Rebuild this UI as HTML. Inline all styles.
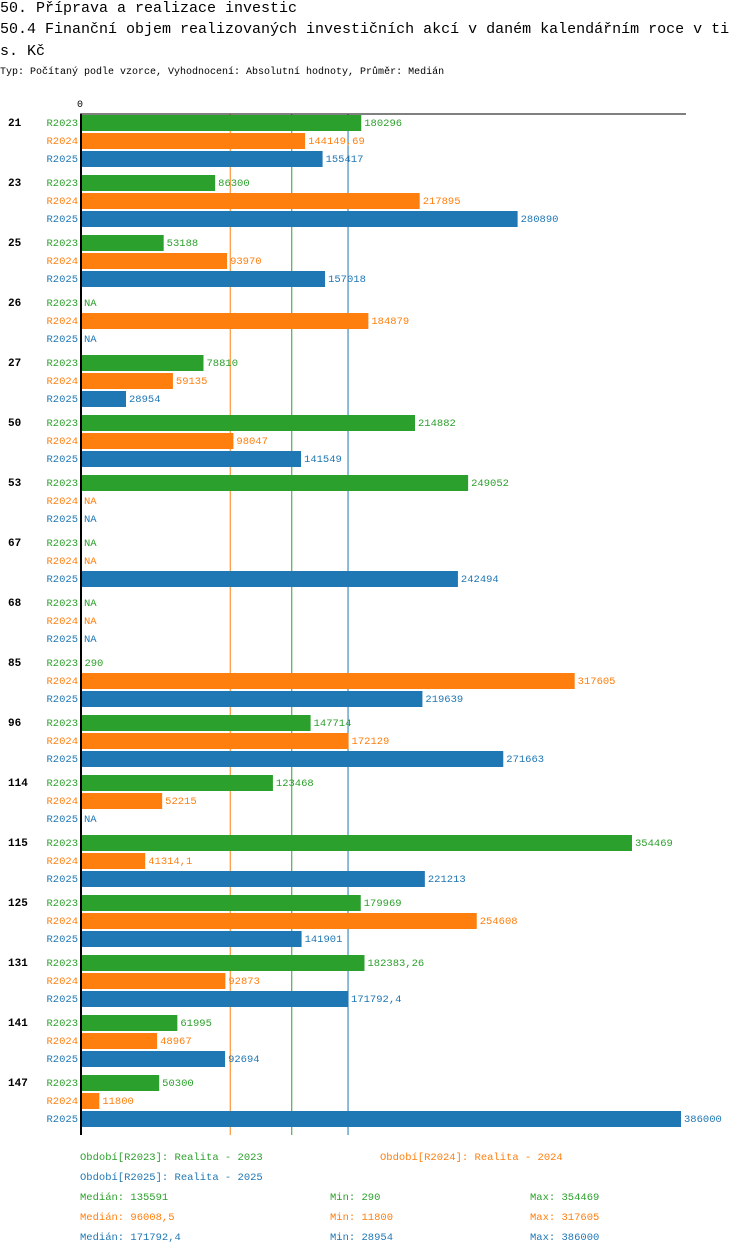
<!DOCTYPE html>
<html><head><meta charset="utf-8"><style>
body{margin:0;background:#fff;width:750px;height:1254px;overflow:hidden;font-family:"Liberation Mono","DejaVu Sans Mono",monospace;}
.t{position:absolute;left:0;white-space:nowrap;font-size:15px;color:#000;}
</style></head><body>
<div class="t" style="top:0px">50. Příprava a realizace investic</div>
<div class="t" style="top:21px;width:750px;overflow:hidden">50.4 Finanční objem realizovaných investičních akcí v daném kalendářním roce v ti</div>
<div class="t" style="top:43px">s. Kč</div>
<div class="t" style="top:67px;font-size:10px">Typ: Počítaný podle vzorce, Vyhodnocení: Absolutní hodnoty, Průměr: Medián</div>
<svg id="c" width="750" height="1254" style="position:absolute;left:0;top:0"></svg>
<script>
const categories=["21","23","25","26","27","50","53","67","68","85","96","114","115","125","131","141","147"];
const seriesNames=["R2023","R2024","R2025"];
const r2023=[180296,86300,53188,null,78810,214882,249052,null,null,290,147714,123468,354469,179969,182383.26,61995,50300];
const r2024=[144149.69,217895,93970,184879,59135,98047,null,null,null,317605,172129,52215,41314.1,254608,92873,48967,11800];
const r2025=[155417,280890,157018,null,28954,141549,null,242494,null,219639,271663,null,221213,141901,171792.4,92694,386000];
const medians=[135591,96008.5,171792.4];
const mins=[290,11800,28954];
const maxs=[354469,317605,386000];
const medianLabels=["135591","96008,5","171792,4"];
const legendTitles=["Období[R2023]: Realita - 2023","Období[R2024]: Realita - 2024","Období[R2025]: Realita - 2025"];
const colors=["#2ca02c","#ff7f0e","#1f77b4"];
const series=[r2023,r2024,r2025];
const X0=81,XMAX=386000,W=600;
const x=v=>X0+v/XMAX*W;
const svg=document.getElementById('c');
const NS="http://www.w3.org/2000/svg";
function mk(tag,a){const e=document.createElementNS(NS,tag);for(const k in a)e.setAttribute(k,a[k]);svg.appendChild(e);return e;}
function fmt(v){return String(v).replace('.',',');}
const top0=114,gh=60,bh=16;
const bottom=1135;
medians.forEach((m,i)=>{const l=mk('line',{x1:x(m),x2:x(m),y1:top0,y2:bottom,stroke:colors[i],'stroke-width':1});

});
categories.forEach((c,gi)=>{
  const gy=top0+gi*gh;
  const t=mk('text',{x:8,y:gy+12,'font-size':11,'font-weight':'bold','font-family':'Liberation Mono,monospace'});t.textContent=c;
  
  
  series.forEach((s,si)=>{
    const y=gy+si*18;
    const lb=mk('text',{x:78,y:y+12,'font-size':10.5,'text-anchor':'end',fill:colors[si],'font-family':'Liberation Mono,monospace'});lb.textContent=seriesNames[si];
    
    
    const v=s[gi];
    if(v!==null){
      const r=mk('rect',{x:X0,y:y+1,width:Math.max(0,x(v)-X0),height:bh,fill:colors[si]});
      
      
    }
    const vt=mk('text',{x:(v===null?X0:x(v))+3,y:y+12,'font-size':10.5,fill:colors[si],'font-family':'Liberation Mono,monospace'});
    vt.textContent=v===null?'NA':fmt(v);
    
    
  });
});
const ax=mk('line',{x1:80,x2:686,y1:top0,y2:top0,stroke:'#000','stroke-width':1});


const ay=mk('line',{x1:81,x2:81,y1:top0,y2:bottom,stroke:'#000','stroke-width':2});


const z=mk('text',{x:77,y:107,'font-size':10,'font-family':'Liberation Mono,monospace'});z.textContent='0';


const lpos=[[80,1160],[380,1160],[80,1180]];
legendTitles.forEach((t,i)=>{const e=mk('text',{x:lpos[i][0],y:lpos[i][1],'font-size':10.5,fill:colors[i],'font-family':'Liberation Mono,monospace'});e.textContent=t;

});
[0,1,2].forEach(i=>{const y=1200+i*20;
 const a=mk('text',{x:80,y:y,'font-size':10.5,fill:colors[i],'font-family':'Liberation Mono,monospace'});a.textContent='Medián: '+medianLabels[i];
 
 
 const b=mk('text',{x:330,y:y,'font-size':10.5,fill:colors[i],'font-family':'Liberation Mono,monospace'});b.textContent='Min: '+mins[i];
 
 
 const d=mk('text',{x:530,y:y,'font-size':10.5,fill:colors[i],'font-family':'Liberation Mono,monospace'});d.textContent='Max: '+maxs[i];
 
 
});
</script>
</body></html>
